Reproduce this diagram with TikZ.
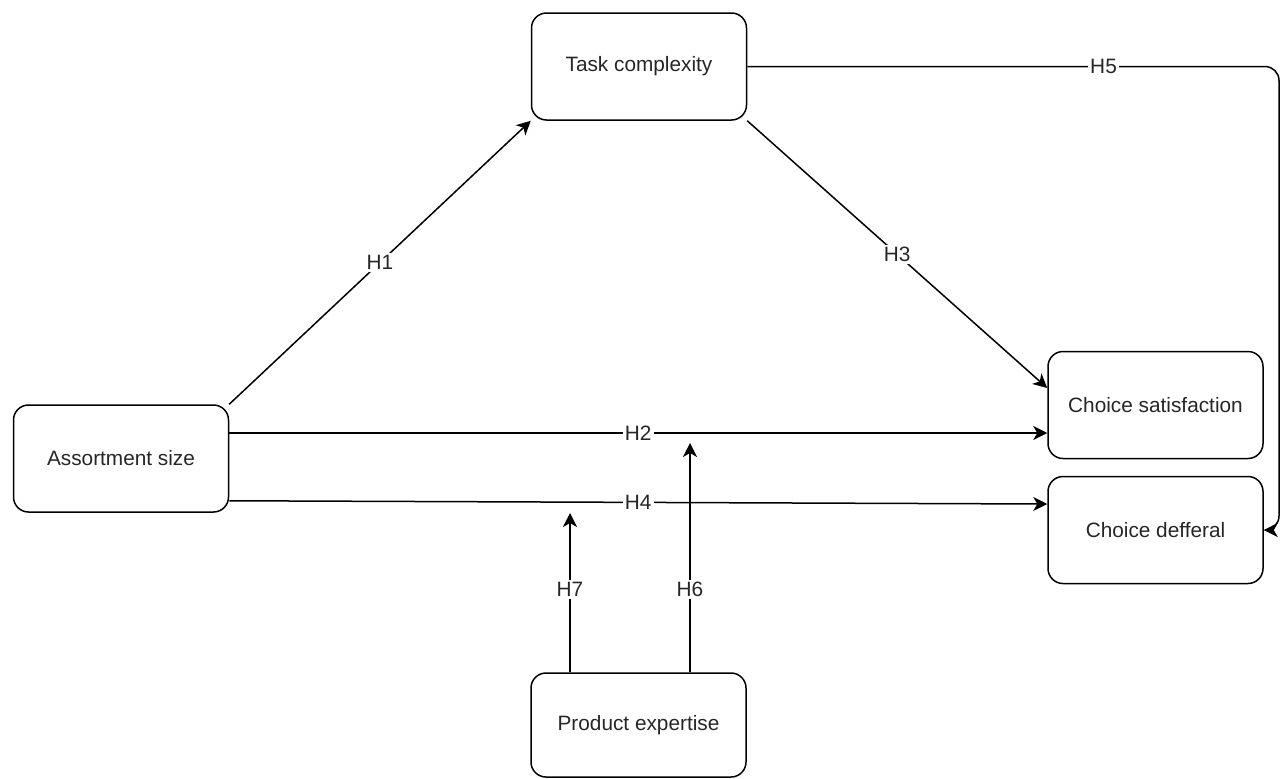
\documentclass[tikz,border=0pt]{standalone}
\usepackage{fontspec}
\setmainfont{Liberation Sans}
\usetikzlibrary{arrows.meta}

\begin{document}
\begin{tikzpicture}[
            x=0.5pt, y=-0.5pt,
            every node/.style={align=center, font=\fontsize{10.4}{12}\selectfont, text=black!85},
            arr/.style={draw, line width=.75pt, -{Stealth[length=7pt, width=7pt, inset=2pt]}}
        ]

        % Define styles for nodes
        \tikzset{
            box/.style={rectangle, draw, line width=.75pt, rounded corners=7.5pt, minimum width=107.5pt, minimum height=53.5pt, align=center},
            lbl/.style={fill=white, inner sep=1pt}
        }

        \useasboundingbox (0,0) rectangle (1284,778);

        % Nodes
        \node[box] (task) at (639,66.5) {Task complexity};
        \node[box] (assort) at (121,458.5) {Assortment size};
        \node[box] (satis) at (1155.5,405) {Choice satisfaction};
        \node[box] (deferral) at (1155.5,530) {Choice defferal};
        \node[box, minimum height=52pt] (expert) at (638.5,725) {Product expertise};

        % Helper points
        \coordinate (h5x) at (1279,0);
        \coordinate (h6end) at (690,443);
        \coordinate (h7end) at (570,513);

        % Hypotheses
        \draw[arr] (assort.north east) -- node[lbl] {H1} (task.south west);
        \draw[arr] ([yshift=12.75pt]assort.east) -- node[lbl] {H2} ([yshift=12.75pt]assort.east -| satis.west);
        \draw[arr] (task.south east) -- node[lbl] {H3} ([yshift=8.5pt]satis.west);
        \draw[arr] ([yshift=6pt]assort.south east) -- node[lbl] {H4} ([yshift=13pt]deferral.west);
        \draw[arr, rounded corners=7pt] (task.east) -- node[lbl, pos=.67] {H5} (task.east -| h5x) |- (deferral.east);
        \draw[arr] (h6end |- expert.north) -- node[lbl, pos=.36] {H6} (h6end);
        \draw[arr] (h7end |- expert.north) -- node[lbl, pos=.52] {H7} (h7end);

\end{tikzpicture}
\end{document}
